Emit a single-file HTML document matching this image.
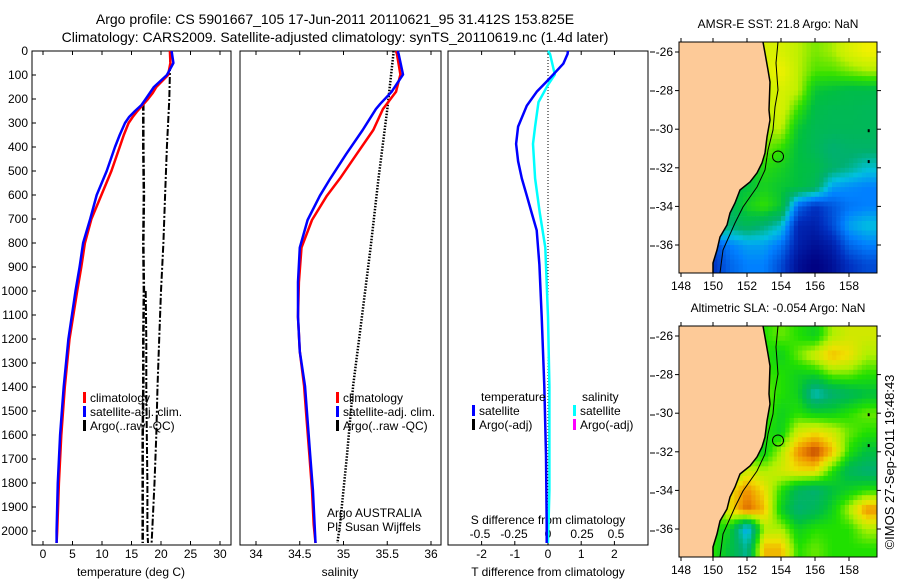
<!DOCTYPE html>
<html><head><meta charset="utf-8">
<style>
html,body{margin:0;padding:0;background:#fff;}
svg{display:block;font-family:"Liberation Sans",Arial,sans-serif;}
text{fill:#000;}
</style></head>
<body>
<svg id="chart" width="900" height="580" viewBox="0 0 900 580" xmlns="http://www.w3.org/2000/svg">
<text x="335" y="24" font-size="14" text-anchor="middle">Argo profile: CS 5901667_105 17-Jun-2011 20110621_95 31.412S 153.825E</text>
<text x="335" y="42" font-size="14" text-anchor="middle">Climatology: CARS2009. Satellite-adjusted climatology: synTS_20110619.nc (1.4d later)</text>
<g id="g1"></g>
<g id="g2"></g>
<g id="g3"></g>
<g id="m1"></g>
<g id="m2"></g>
<text transform="translate(894,462) rotate(-90)" font-size="13" text-anchor="middle">©IMOS 27-Sep-2011 19:48:43</text>
</svg>
<script>
// ---- temperature panel data ----
const tClimDepth = [0,50,100,150,175,200,225,250,275,300,350,400,500,600,700,800,900,1000,1200,1400,1600,1800,2000,2050];
const tClim = [21.5,21.6,21.2,19.2,18.6,17.8,16.9,16.0,15.2,14.5,13.7,13.0,11.6,9.9,8.2,7.1,6.5,5.8,4.5,3.7,3.1,2.7,2.4,2.3];
const tSatDepth = [0,50,100,150,175,200,225,250,275,300,350,400,500,600,700,800,900,1000,1200,1400,1600,1800,2000,2050];
const tSat = [21.8,22.1,21.0,18.8,18.1,17.4,16.7,15.6,14.6,13.9,13.0,12.2,10.8,9.1,8.0,6.8,6.2,5.5,4.3,3.5,2.9,2.5,2.3,2.3];
const tArgoADepth = [220,400,600,800,1000,1200,1400,1600,1800,2000,2050];
const tArgoA = [17.0,17.0,17.1,17.0,17.1,17.0,17.0,16.9,16.9,16.9,16.9];
const tArgoBDepth = [1000,1200,1400,1600,1800,2000,2050];
const tArgoB = [17.4,17.5,17.5,17.6,17.7,17.7,17.8];
const tArgoCDepth = [0,200,400,600,800,1000,1200,1400,1600,1800,2000,2050];
const tArgoC = [21.6,21.4,21.0,20.7,20.4,20.0,19.7,19.4,19.2,18.9,18.5,18.4];
const tTicks = [0,5,10,15,20,25,30];
const depthTicks = [0,100,200,300,400,500,600,700,800,900,1000,1100,1200,1300,1400,1500,1600,1700,1800,1900,2000];
// ---- salinity panel data ----
const sClimDepth = [0,12,98,170,242,329,430,531,603,704,819,963,1108,1252,1396,1540,1684,1829,1973,2050];
const sClim = [35.6,35.61,35.65,35.6,35.45,35.34,35.15,34.96,34.81,34.64,34.52,34.49,34.48,34.5,34.55,34.58,34.61,34.64,34.66,34.68];
const sSatDepth = [0,12,98,170,220,242,329,430,531,603,704,819,963,1108,1252,1396,1540,1684,1829,1973,2050];
const sSat = [35.62,35.63,35.68,35.55,35.42,35.37,35.22,35.03,34.85,34.73,34.59,34.5,34.48,34.48,34.5,34.56,34.59,34.62,34.65,34.67,34.68];
const sArgoDepth = [0,12,242,531,819,1108,1252,1396,1684,1973,2050];
const sArgo = [35.57,35.57,35.5,35.4,35.31,35.21,35.16,35.11,35.04,34.96,34.93];
const sTicks = [34,34.5,35,35.5,36];
// ---- difference panel data ----
const dTDepth = [0,12,53,98,127,170,228,315,387,459,531,603,675,747,891,1108,1396,1684,1973,2050];
const dT = [0.6,0.59,0.46,0.16,-0.04,-0.34,-0.64,-0.9,-0.96,-0.9,-0.79,-0.64,-0.49,-0.34,-0.26,-0.19,-0.11,-0.06,-0.04,-0.04];
const dSDepth = [0,12,98,141,213,315,387,531,675,819,1108,1396,1829,2050];
const dS = [0.0,0.015,0.05,0.0,-0.07,-0.095,-0.11,-0.095,-0.06,-0.02,0.0,0.01,0.01,0.0];
const dTTicks = [-2,-1,0,1,2];
const dSTicks = [-0.5,-0.25,0,0.25,0.5];
const dSTickLabels = ["-0.5","-0.25","0","0.25","0.5"];
// ---- map data (rows lat -26..-37, cols lon 148..159) ----
const mapLons = [148,149,150,151,152,153,154,155,156,157,158,159];
const mapLats = [-26,-27,-28,-29,-30,-31,-32,-33,-34,-35,-36,-37];
const sstGrid = [
[.6,.6,.6,.6,.6,.85,.85,.8,.75,.78,.85,.9],
[.6,.6,.6,.6,.6,.85,.9,.8,.72,.72,.75,.78],
[.6,.6,.6,.6,.6,.82,.85,.8,.62,.6,.58,.58],
[.6,.6,.6,.6,.6,.8,.85,.7,.58,.56,.56,.55],
[.6,.6,.6,.6,.6,.78,.8,.62,.56,.55,.55,.55],
[.6,.6,.6,.6,.6,.75,.7,.6,.55,.5,.52,.52],
[.6,.6,.6,.6,.6,.68,.65,.6,.58,.52,.48,.42],
[.6,.6,.6,.6,.6,.65,.62,.6,.55,.35,.32,.3],
[.6,.6,.6,.55,.65,.7,.62,.25,.15,.22,.28,.3],
[.6,.6,.6,.5,.55,.5,.42,.12,.1,.2,.35,.4],
[.6,.6,.2,.3,.35,.35,.28,.1,.05,.1,.25,.3],
[.6,.6,.15,.25,.3,.3,.2,.05,0,.05,.15,.2]];
const slaGrid = [
[.6,.6,.6,.6,.6,.6,.65,.6,.55,.7,.75,.75],
[.6,.6,.6,.6,.6,.6,.55,.65,.75,.85,.8,.7],
[.6,.6,.6,.6,.6,.62,.6,.55,.55,.65,.65,.6],
[.6,.6,.6,.6,.6,.65,.6,.55,.3,.4,.45,.5],
[.6,.6,.6,.6,.6,.65,.55,.6,.55,.55,.6,.65],
[.6,.6,.6,.6,.6,.6,.55,.75,.8,.75,.65,.6],
[.6,.6,.6,.6,.6,.55,.7,.9,1,.85,.6,.5],
[.6,.6,.6,.6,.75,.7,.75,.8,.8,.6,.45,.4],
[.6,.6,.6,.8,.9,.8,.6,.45,.4,.5,.55,.6],
[.6,.6,.6,.8,.95,.85,.55,.4,.45,.55,.7,.9],
[.6,.6,.6,.55,.2,.7,.7,.55,.6,.6,.6,.7],
[.6,.6,.6,.5,.35,.85,.85,.6,.65,.6,.6,.6]];
const latTicks = [-26,-28,-30,-32,-34,-36];
const lonTicks = [148,150,152,154,156,158];
const floatLon = 153.825, floatLat = -31.412;

const NS="http://www.w3.org/2000/svg";
function mk(parent, tag, attrs, txt){const e=document.createElementNS(NS,tag);for(const k in attrs)e.setAttribute(k,attrs[k]);if(txt!==undefined)e.textContent=txt;parent.appendChild(e);return e;}
const TOP=51, BOT=545;
const yD = d => TOP + d*0.24;
const xT = v => 43 + v*5.9;
const xS = v => 256 + (v-34)*87.5;
const xDT = v => 548 + v*33.2;
const xDS = v => 548 + v*136;
function pts(xs, ds, fx){return xs.map((v,i)=>fx(v).toFixed(1)+","+yD(ds[i]).toFixed(1)).join(" ");}

function box(g,x0,x1,name){
  const r=mk(g,"rect",{x:x0,y:TOP,width:x1-x0,height:BOT-TOP,fill:"#fff",stroke:"#000","stroke-width":1});
  
  
}
function xticks(g,vals,fx,labels,ly){
  vals.forEach((v,i)=>{
    const x=fx(v);
    const t1=mk(g,"line",{x1:x,x2:x,y1:BOT,y2:BOT-4,stroke:"#000"});
    
    
    const t2=mk(g,"line",{x1:x,x2:x,y1:TOP,y2:TOP+4,stroke:"#000"});
    
    
    const l=mk(g,"text",{x:x,y:ly,"font-size":12,"text-anchor":"middle"},labels?labels[i]:String(v));
    
    
  });
}
function line(g,xs,ds,fx,color,w,dash,name){
  const p=mk(g,"polyline",{points:pts(xs,ds,fx),fill:"none",stroke:color,"stroke-width":w,"stroke-dasharray":dash||"none","stroke-linejoin":"round"});
  
  
}
function legendItem(g,x,y,color,label){
  const m=mk(g,"rect",{x:x,y:y-10,width:3,height:11,fill:color});
  
  
  const t=mk(g,"text",{x:x+7,y:y,"font-size":12},label);
  
  
}

// Panel 1
const g1=document.getElementById("g1");
box(g1,32,231,'temperature-axes');
depthTicks.forEach(d=>{
  const tk=mk(g1,"line",{x1:32,x2:36,y1:yD(d),y2:yD(d),stroke:"#000"});
  
  
  const l=mk(g1,"text",{x:28,y:yD(d)+4,"font-size":12,"text-anchor":"end"},String(d));
  
  
});
xticks(g1,tTicks,xT,null,558);
const xl1=mk(g1,"text",{x:131,y:576,"font-size":12,"text-anchor":"middle"},"temperature (deg C)");


line(g1,tArgoA,tArgoADepth,xT,"#000",2.5,"7,2,2,2",'argo-temp-line-a');
line(g1,tArgoB,tArgoBDepth,xT,"#000",2,"7,2,2,2",'argo-temp-line-b');
line(g1,tArgoC,tArgoCDepth,xT,"#000",2,"7,2,2,2",'argo-temp-line-c');
line(g1,tClim,tClimDepth,xT,"#f00",2.5,null,'temp-climatology-line');
line(g1,tSat,tSatDepth,xT,"#00f",2.5,null,'temp-satellite-line');
legendItem(g1,83,402,"#f00","climatology");
legendItem(g1,83,416,"#00f","satellite-adj. clim.");
legendItem(g1,83,430,"#000","Argo(..raw -QC)");

// Panel 2
const g2=document.getElementById("g2");
box(g2,240,441,'salinity-axes');
xticks(g2,sTicks,xS,null,558);
const xl2=mk(g2,"text",{x:340,y:576,"font-size":12,"text-anchor":"middle"},"salinity");


line(g2,sArgo,sArgoDepth,xS,"#000",2.5,"1.5,1.5",'argo-salinity-line');
line(g2,sClim,sClimDepth,xS,"#f00",2.5,null,'salinity-climatology-line');
line(g2,sSat,sSatDepth,xS,"#00f",2.5,null,'salinity-satellite-line');
legendItem(g2,336,402,"#f00","climatology");
legendItem(g2,336,416,"#00f","satellite-adj. clim.");
legendItem(g2,336,430,"#000","Argo(..raw -QC)");
const a1=mk(g2,"text",{x:327,y:517,"font-size":12},"Argo AUSTRALIA");


const a2=mk(g2,"text",{x:327,y:531,"font-size":12},"PI: Susan Wijffels");



// Panel 3
const g3=document.getElementById("g3");
box(g3,448,648,'difference-axes');
xticks(g3,dTTicks,xDT,null,558);
const xl3=mk(g3,"text",{x:548,y:576,"font-size":12,"text-anchor":"middle"},"T difference from climatology");


dSTicks.forEach((v,i)=>{
  const l=mk(g3,"text",{x:xDS(v),y:538,"font-size":12,"text-anchor":"middle"},dSTickLabels[i]);
  
  
});
const st=mk(g3,"text",{x:548,y:524,"font-size":12,"text-anchor":"middle"},"S difference from climatology");


const zl=mk(g3,"line",{x1:548,x2:548,y1:TOP,y2:BOT,stroke:"#000","stroke-dasharray":"1,2"});


line(g3,dS,dSDepth,xDS,"#00ffff",2.5,null,'salinity-difference-line');
line(g3,dT,dTDepth,xDT,"#0000ff",2.5,null,'temperature-difference-line');
[52,91,130,169,208,246,338,376,415,453,493,531].forEach(yy=>{
  const tk=mk(g3,"line",{x1:650,x2:655,y1:yy,y2:yy,stroke:"#000"});
  
  
});
const lt=mk(g3,"text",{x:481,y:401,"font-size":12},"temperature");


const ls=mk(g3,"text",{x:582,y:401,"font-size":12},"salinity");


legendItem(g3,472,415,"#00f","satellite");
legendItem(g3,472,429,"#000","Argo(-adj)");
legendItem(g3,573,415,"#00ffff","satellite");
legendItem(g3,573,429,"#ff00ff","Argo(-adj)");

// Maps
function ramp(stops,v){
  for(let i=1;i<stops.length;i++){ if(v<=stops[i][0]){const a=stops[i-1],b=stops[i];const t=(v-a[0])/(b[0]-a[0]||1);
    const c=[0,1,2].map(k=>Math.round(a[1][k]+(b[1][k]-a[1][k])*t));return "rgb("+c.join(",")+")";}}
  const l=stops[stops.length-1][1];return "rgb("+l.join(",")+")";
}
function sample(grid,fr,fc){
  const R=grid.length-1,C=grid[0].length-1;
  fr=Math.max(0,Math.min(R,fr));fc=Math.max(0,Math.min(C,fc));
  const r0=Math.floor(fr),c0=Math.floor(fc),r1=Math.min(R,r0+1),c1=Math.min(C,c0+1);
  const a=fr-r0,b=fc-c0;
  return grid[r0][c0]*(1-a)*(1-b)+grid[r0][c1]*(1-a)*b+grid[r1][c0]*a*(1-b)+grid[r1][c1]*a*b;
}
const sstStops=[[0,[0,0,128]],[.15,[0,48,192]],[.3,[0,128,255]],[.4,[0,192,224]],[.5,[0,176,112]],[.6,[0,192,64]],[.7,[48,224,0]],[.8,[192,240,0]],[.9,[240,240,0]],[1,[255,208,0]]];
const slaStops=[[0,[0,64,224]],[.2,[0,160,255]],[.3,[0,192,192]],[.4,[0,176,112]],[.5,[0,192,64]],[.6,[32,224,0]],[.7,[176,240,0]],[.8,[240,224,0]],[.9,[240,144,0]],[1,[192,64,0]]];
const coast=[[763,42],[765,53],[768,70],[770,82],[769,110],[770,120],[767,137],[765,153],[762,163],[757,173],[750,182],[740,190],[735,203],[730,213],[727,225],[720,237],[717,250],[713,263],[713,273]];
const iso=[[778,42],[776,63],[778,90],[775,107],[773,130],[768,150],[765,170],[757,187],[743,207],[735,223],[723,250],[720,273]];
function drawMap(id,top,grid,stops,title){
  const g=document.getElementById(id);
  const bot=top+231, x0=679, x1=877;
  const xL=lon=>713+(lon-150)*17;
  const yL=lat=>top+10+(-26-lat)*19.3;
  const tt=mk(g,"text",{x:778,y:top-14,"font-size":12,"text-anchor":"middle"},title);
  
  
  const cp=mk(g,"clipPath",{id:"clip"+id});
  mk(cp,"rect",{x:x0,y:top,width:x1-x0,height:bot-top});
  const cg=mk(g,"g",{"clip-path":"url(#clip"+id+")"});
  const step=0.25;
  for(let lat=-25.5;lat>-37.6;lat-=step){
    for(let lon=147.5;lon<159.6;lon+=step){
      const fr=(-26-(lat-step/2)), fc=(lon+step/2-148);
      const v=sample(grid,fr,fc);
      const cell=mk(cg,"rect",{x:xL(lon).toFixed(1),y:yL(lat).toFixed(1),width:4.6,height:5.2,fill:ramp(stops,v)});
      
      
    }
  }
  const dy=top-42;
  const land=mk(cg,"polygon",{points:coast.map(p=>p[0]+","+(p[1]+dy)).join(" ")+" 679,"+bot+" 679,"+top,fill:"#fdca98"});
  
  
  const cl=mk(cg,"polyline",{points:coast.map(p=>p[0]+","+(p[1]+dy)).join(" "),fill:"none",stroke:"#000","stroke-width":1.5});
  
  
  const is=mk(cg,"polyline",{points:iso.map(p=>p[0]+","+(p[1]+dy)).join(" "),fill:"none",stroke:"#000","stroke-width":1});
  
  
  [[-30,2],[-31.6,2]].forEach(d=>{
    const isl=mk(cg,"rect",{x:xL(159.1),y:yL(d[0]),width:2,height:3,fill:"#000"});
    
    
  });
  const fc=mk(g,"circle",{cx:xL(floatLon),cy:yL(floatLat),r:5.5,fill:"none",stroke:"#000","stroke-width":1});
  
  
  const fr=mk(g,"rect",{x:x0,y:top,width:x1-x0,height:bot-top,fill:"none",stroke:"#000"});
  
  
  latTicks.forEach(lat=>{
    const y=yL(lat);
    const tk=mk(g,"line",{x1:x0-4,x2:x0,y1:y,y2:y,stroke:"#000"});
    
    
    const tk2=mk(g,"line",{x1:x1,x2:x1+4,y1:y,y2:y,stroke:"#000"});
    
    
    const l=mk(g,"text",{x:x0-6,y:y+4,"font-size":12,"text-anchor":"end"},String(lat));
    
    
  });
  lonTicks.forEach(lon=>{
    const x=xL(lon)+(lon===148?2:0);
    const tk=mk(g,"line",{x1:x,x2:x,y1:bot,y2:bot+4,stroke:"#000"});
    
    
    const tk2=mk(g,"line",{x1:x,x2:x,y1:top-4,y2:top,stroke:"#000"});
    
    
    const l=mk(g,"text",{x:x,y:bot+17,"font-size":12,"text-anchor":"middle"},String(lon));
    
    
  });
}
drawMap("m1",42,sstGrid,sstStops,"AMSR-E SST: 21.8 Argo: NaN");
drawMap("m2",326,slaGrid,slaStops,"Altimetric SLA: -0.054 Argo: NaN");
</script>
</body></html>
